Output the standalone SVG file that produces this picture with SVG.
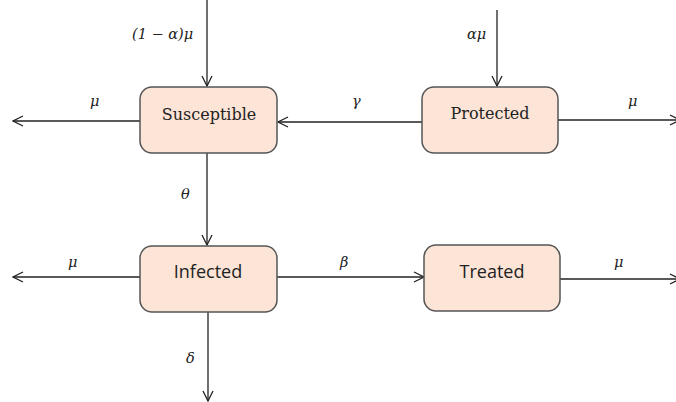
<svg xmlns="http://www.w3.org/2000/svg" width="676" height="402" viewBox="0 0 676 402">
<defs>
<marker id="arr" viewBox="0 0 12 12" markerWidth="12" markerHeight="12" refX="11" refY="6" orient="auto" markerUnits="userSpaceOnUse">
<polyline points="1,1 11,6 1,11" fill="none" stroke="#222" stroke-width="1.3"/>
</marker>
<style>
.box{fill:#fce4d6;stroke:#555;stroke-width:1.5}
.nm{font-family:'DejaVu Serif', serif;font-size:16px;fill:#222;text-anchor:middle}
.sn{font-family:'Open Sans', 'DejaVu Sans', sans-serif;font-size:18px;fill:#222;text-anchor:middle}
.lbl{font-family:'DejaVu Serif', serif;font-style:italic;font-size:14.5px;fill:#222}
.c{stroke:#222;stroke-width:1.3;fill:none;marker-end:url(#arr)}
</style>
</defs>
<rect width="676" height="402" fill="#fff"/>
<g id="connectors">
<line class="c" x1="207" y1="0" x2="207" y2="86"/>
<line class="c" x1="497" y1="10" x2="497" y2="86"/>
<line class="c" x1="140" y1="121" x2="13" y2="121"/>
<line class="c" x1="422" y1="122" x2="278" y2="122"/>
<line class="c" x1="558" y1="120" x2="680" y2="120"/>
<line class="c" x1="207" y1="153" x2="207" y2="245"/>
<line class="c" x1="140" y1="277" x2="13" y2="277"/>
<line class="c" x1="271" y1="277" x2="424" y2="277"/>
<line class="c" x1="560" y1="279" x2="680" y2="279"/>
<line class="c" x1="208" y1="312" x2="208" y2="401"/>
</g>
<g id="labels">
<text class="lbl" x="132" y="39">(1 − α)μ</text>
<text class="lbl" x="467" y="39">αμ</text>
<text class="lbl" x="90" y="106">μ</text>
<text class="lbl" x="352" y="106">γ</text>
<text class="lbl" x="628" y="106">μ</text>
<text class="lbl" x="181" y="199">θ</text>
<text class="lbl" x="68" y="267">μ</text>
<text class="lbl" x="340" y="267">β</text>
<text class="lbl" x="614" y="267">μ</text>
<text class="lbl" x="186" y="363">δ</text>
</g>
<g id="susceptible">
<rect class="box" x="140" y="87" width="137" height="66" rx="12"/>
<text class="nm" x="209" y="120">Susceptible</text>
</g>
<g id="protected">
<rect class="box" x="422" y="87" width="136" height="66" rx="12"/>
<text class="nm" x="490" y="119">Protected</text>
</g>
<g id="infected">
<rect class="box" x="140" y="246" width="137" height="66" rx="12"/>
<text class="sn" x="208" y="278">Infected</text>
</g>
<g id="treated">
<rect class="box" x="424" y="245" width="136" height="66" rx="12"/>
<text class="sn" x="492" y="278">Treated</text>
</g>
</svg>
